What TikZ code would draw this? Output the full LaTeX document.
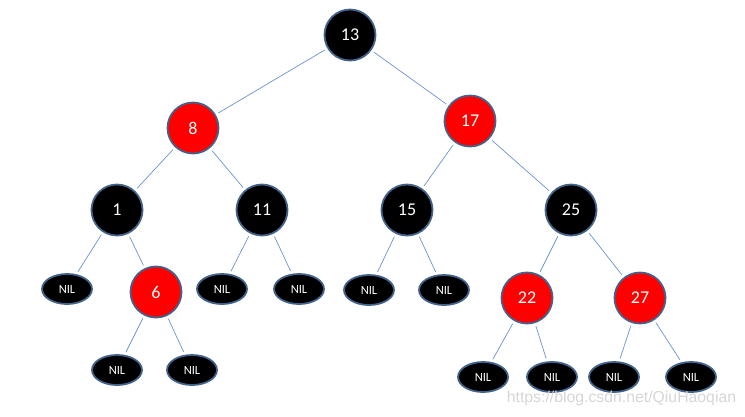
\documentclass[tikz,border=0pt]{standalone}
\usepackage{fontspec}
\setmainfont{Carlito}
\newfontfamily\wmfont{Liberation Sans}
\usetikzlibrary{shapes.geometric}
\definecolor{edgeblue}{HTML}{6A94CC}
\definecolor{rimblue}{HTML}{41638C}
\definecolor{nodered}{HTML}{FF0000}
\begin{document}
\begin{tikzpicture}[x=1pt,y=-1pt,
  rbnode/.style={circle,draw=rimblue,line width=1.8pt,minimum size=51pt,inner sep=0pt,text=white,font=\fontsize{18}{18}\selectfont},
  blk/.style={rbnode,fill=black},
  rd/.style={rbnode,fill=nodered},
  nil/.style={ellipse,draw=rimblue,line width=1.8pt,fill=black,minimum width=50pt,minimum height=30pt,inner sep=0pt,text=white,font=\fontsize{12.5}{12.5}\selectfont},
  edge/.style={draw=edgeblue,line width=0.7pt,shorten <=3pt,shorten >=3pt}]
\useasboundingbox (0,0) rectangle (745,416);
\node[blk] (n13) at (350,35) {13};
\node[rd] (n8) at (193,128) {8};
\node[rd] (n17) at (470,121) {17};
\node[blk] (n1) at (117,210) {1};
\node[blk] (n11) at (262,210) {11};
\node[blk] (n15) at (407,210) {15};
\node[blk] (n25) at (571,210) {25};
\node[rd] (n6) at (156,292) {6};
\node[rd] (n22) at (527,298) {22};
\node[rd] (n27) at (640,298) {27};
\node[nil] (l1) at (67,289) {NIL};
\node[nil] (l11a) at (222,289) {NIL};
\node[nil] (l11b) at (299,289) {NIL};
\node[nil] (l15a) at (369,290) {NIL};
\node[nil] (l15b) at (444,290) {NIL};
\node[nil] (l6a) at (117,370) {NIL};
\node[nil] (l6b) at (192,370) {NIL};
\node[nil] (l22a) at (483,377) {NIL};
\node[nil] (l22b) at (552,377) {NIL};
\node[nil] (l27a) at (614,377) {NIL};
\node[nil] (l27b) at (691,377) {NIL};
\draw[edge] (n13) -- (n8);
\draw[edge] (n13) -- (n17);
\draw[edge] (n8) -- (n1);
\draw[edge] (n8) -- (n11);
\draw[edge] (n17) -- (n15);
\draw[edge] (n17) -- (n25);
\draw[edge] (n1) -- (l1);
\draw[edge] (n1) -- (n6);
\draw[edge] (n11) -- (l11a);
\draw[edge] (n11) -- (l11b);
\draw[edge] (n15) -- (l15a);
\draw[edge] (n15) -- (l15b);
\draw[edge] (n25) -- (n22);
\draw[edge] (n25) -- (n27);
\draw[edge] (n6) -- (l6a);
\draw[edge] (n6) -- (l6b);
\draw[edge] (n22) -- (l22a);
\draw[edge] (n22) -- (l22b);
\draw[edge] (n27) -- (l27a);
\draw[edge] (n27) -- (l27b);
\node[text=black!16,font=\wmfont\fontsize{15.8}{15.8}\selectfont,inner sep=0pt] (wm) at (621.5,398) {https://blog.csdn.net/QiuHaoqian};
\end{tikzpicture}
\end{document}
